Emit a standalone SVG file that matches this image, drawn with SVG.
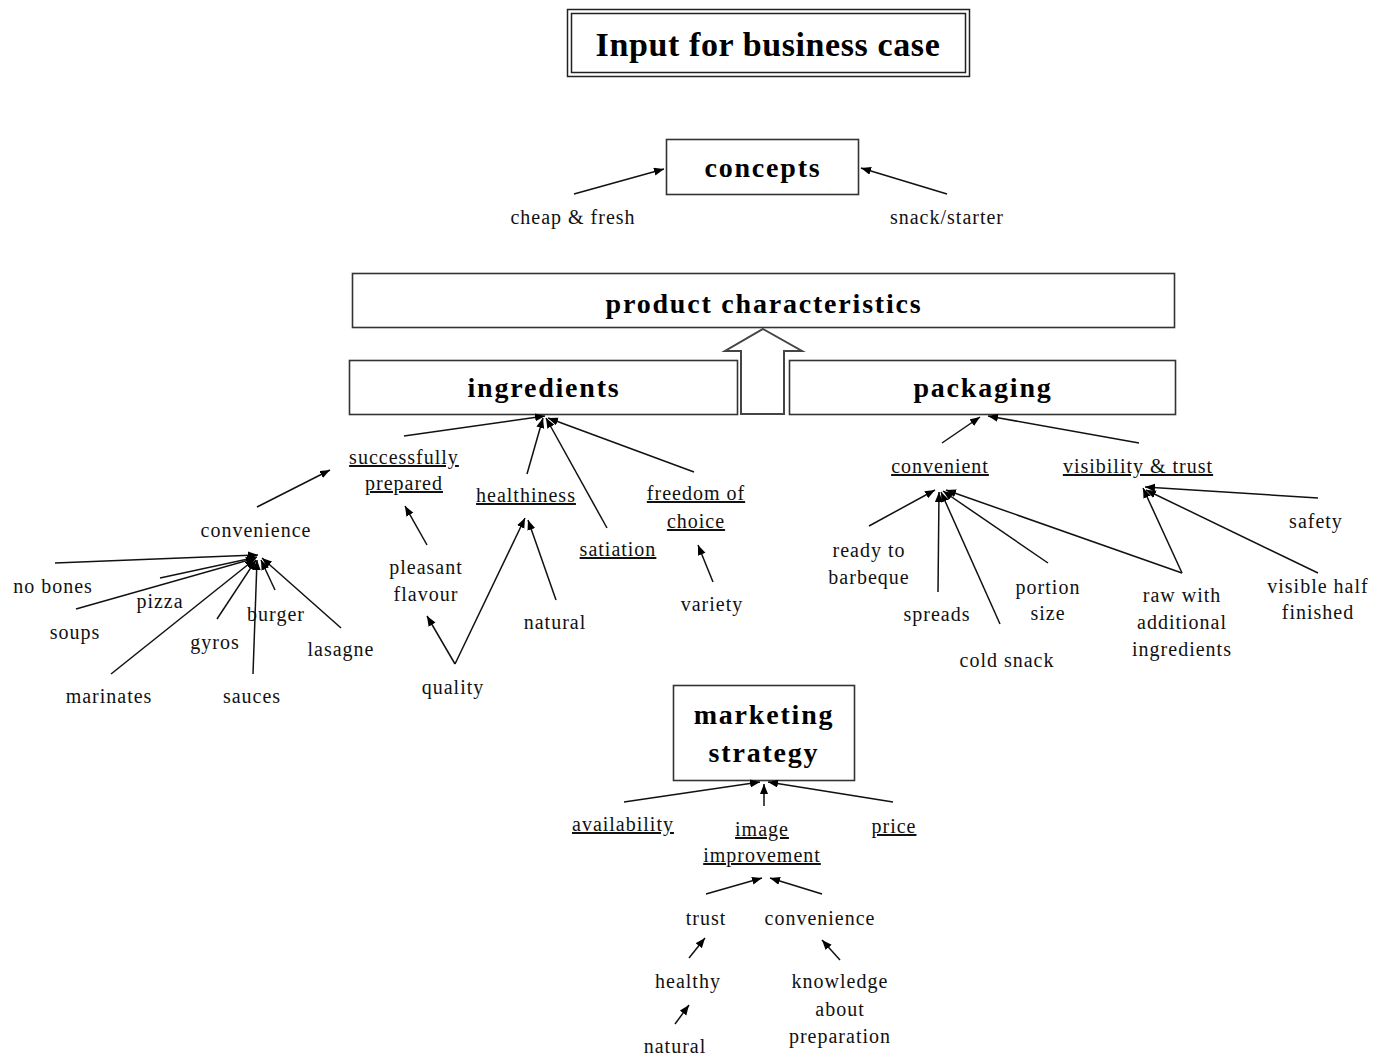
<svg xmlns="http://www.w3.org/2000/svg" width="1375" height="1057" viewBox="0 0 1375 1057">
<style>
.t{font-family:"Liberation Serif","Times New Roman",serif;font-size:20px;letter-spacing:1px;text-anchor:middle;fill:#111}
.u{text-decoration:underline}
.h{font-family:"Liberation Serif","Times New Roman",serif;font-size:28px;font-weight:bold;letter-spacing:1.8px;text-anchor:middle;fill:#000}
.box{fill:#fff;stroke:#333;stroke-width:1.6}
.c line{stroke:#111;stroke-width:1.5;marker-end:url(#ah)}
</style>
<defs>
<marker id="ah" markerUnits="userSpaceOnUse" markerWidth="11" markerHeight="9" refX="10" refY="4" orient="auto">
<path d="M0,0 L10,4 L0,8 z" fill="#000"/>
</marker>
</defs>
<rect width="1375" height="1057" fill="#fff"/>

<g id="title">
<rect x="567.5" y="9.5" width="402" height="67" fill="none" stroke="#222" stroke-width="1.5"/>
<rect x="571.5" y="13.5" width="394" height="59" fill="none" stroke="#222" stroke-width="1.5"/>
<text x="768" y="56" font-family="Liberation Serif,serif" font-size="34" font-weight="bold" letter-spacing="0.6" text-anchor="middle">Input for business case</text>
</g>

<g id="concepts">
<rect class="box" x="666.5" y="139.5" width="192" height="55"/>
<text class="h" x="763" y="177">concepts</text>
</g>
<g id="cheap-fresh"><text class="t" x="573" y="224">cheap &amp; fresh</text></g>
<g id="snack-starter"><text class="t" x="947" y="224">snack/starter</text></g>

<g id="product-characteristics">
<rect class="box" x="352.5" y="273.5" width="822" height="54"/>
<text class="h" x="764" y="313">product characteristics</text>
</g>

<g id="ingredients">
<rect class="box" x="349.5" y="360.5" width="388" height="54"/>
<text class="h" x="544" y="397">ingredients</text>
</g>
<g id="packaging">
<rect class="box" x="789.5" y="360.5" width="386" height="54"/>
<text class="h" x="983" y="397">packaging</text>
</g>
<g id="big-arrow">
<polygon points="763,329 802,351 784,351 784,414 741,414 741,351 725,351" fill="#fff" stroke="#444" stroke-width="2"/>
</g>

<g id="successfully-prepared"><text class="t u" x="404" y="464">successfully</text><text class="t u" x="404" y="490">prepared</text></g>
<g id="healthiness"><text class="t u" x="526" y="502">healthiness</text></g>
<g id="satiation"><text class="t u" x="618" y="556">satiation</text></g>
<g id="freedom-of-choice"><text class="t u" x="696" y="500">freedom of</text><text class="t u" x="696" y="528">choice</text></g>
<g id="pleasant-flavour"><text class="t" x="426" y="574">pleasant</text><text class="t" x="426" y="601">flavour</text></g>
<g id="quality"><text class="t" x="453" y="694">quality</text></g>
<g id="natural-1"><text class="t" x="555" y="629">natural</text></g>
<g id="variety"><text class="t" x="712" y="611">variety</text></g>
<g id="convenience-1"><text class="t" x="256" y="537">convenience</text></g>
<g id="no-bones"><text class="t" x="53" y="593">no bones</text></g>
<g id="pizza"><text class="t" x="160" y="608">pizza</text></g>
<g id="soups"><text class="t" x="75" y="639">soups</text></g>
<g id="gyros"><text class="t" x="215" y="649">gyros</text></g>
<g id="burger"><text class="t" x="276" y="621">burger</text></g>
<g id="lasagne"><text class="t" x="341" y="656">lasagne</text></g>
<g id="marinates"><text class="t" x="109" y="703">marinates</text></g>
<g id="sauces"><text class="t" x="252" y="703">sauces</text></g>

<g id="convenient"><text class="t u" x="940" y="473">convenient</text></g>
<g id="visibility-trust"><text class="t u" x="1138" y="473">visibility &amp; trust</text></g>
<g id="ready-to-barbeque"><text class="t" x="869" y="557">ready to</text><text class="t" x="869" y="584">barbeque</text></g>
<g id="spreads"><text class="t" x="937" y="621">spreads</text></g>
<g id="cold-snack"><text class="t" x="1007" y="667">cold snack</text></g>
<g id="portion-size"><text class="t" x="1048" y="594">portion</text><text class="t" x="1048" y="620">size</text></g>
<g id="raw-with"><text class="t" x="1182" y="602">raw with</text><text class="t" x="1182" y="629">additional</text><text class="t" x="1182" y="656">ingredients</text></g>
<g id="safety"><text class="t" x="1316" y="528">safety</text></g>
<g id="visible-half-finished"><text class="t" x="1318" y="593">visible half</text><text class="t" x="1318" y="619">finished</text></g>

<g id="marketing-strategy">
<rect class="box" x="673.5" y="685.5" width="181" height="95"/>
<text class="h" x="764" y="724">marketing</text>
<text class="h" x="764" y="762">strategy</text>
</g>
<g id="availability"><text class="t u" x="623" y="831">availability</text></g>
<g id="image-improvement"><text class="t u" x="762" y="836">image</text><text class="t u" x="762" y="862">improvement</text></g>
<g id="price"><text class="t u" x="894" y="833">price</text></g>
<g id="trust"><text class="t" x="706" y="925">trust</text></g>
<g id="convenience-2"><text class="t" x="820" y="925">convenience</text></g>
<g id="healthy"><text class="t" x="688" y="988">healthy</text></g>
<g id="natural-2"><text class="t" x="675" y="1053">natural</text></g>
<g id="knowledge"><text class="t" x="840" y="988">knowledge</text><text class="t" x="840" y="1016">about</text><text class="t" x="840" y="1043">preparation</text></g>

<g id="connectors" class="c">
<line x1="574" y1="194" x2="664" y2="169"/>
<line x1="947" y1="194" x2="861" y2="168"/>

<line x1="404" y1="436" x2="545" y2="416"/>
<line x1="527" y1="474" x2="543" y2="418"/>
<line x1="607" y1="528" x2="546" y2="418"/>
<line x1="694" y1="472" x2="548" y2="418"/>
<line x1="257" y1="507" x2="330" y2="470"/>
<line x1="427" y1="545" x2="405" y2="506"/>
<line x1="455" y1="664" x2="427" y2="616"/>
<line x1="455" y1="664" x2="525" y2="518"/>
<line x1="556" y1="600" x2="528" y2="520"/>
<line x1="713" y1="582" x2="698" y2="545"/>

<line x1="55" y1="563" x2="258" y2="555"/>
<line x1="160" y1="578" x2="257" y2="557"/>
<line x1="76" y1="609" x2="256" y2="558"/>
<line x1="111" y1="674" x2="255" y2="559"/>
<line x1="217" y1="619" x2="256" y2="560"/>
<line x1="253" y1="674" x2="257" y2="560"/>
<line x1="275" y1="590" x2="261" y2="560"/>
<line x1="341" y1="628" x2="262" y2="558"/>

<line x1="942" y1="443" x2="980" y2="417"/>
<line x1="1139" y1="443" x2="988" y2="416"/>
<line x1="869" y1="526" x2="935" y2="490"/>
<line x1="938" y1="592" x2="939" y2="492"/>
<line x1="1000" y1="624" x2="941" y2="492"/>
<line x1="1048" y1="563" x2="943" y2="491"/>
<line x1="1182" y1="573" x2="946" y2="490"/>
<line x1="1182" y1="573" x2="1143" y2="488"/>
<line x1="1318" y1="498" x2="1145" y2="487"/>
<line x1="1318" y1="573" x2="1146" y2="490"/>

<line x1="624" y1="802" x2="760" y2="782"/>
<line x1="764" y1="806" x2="764" y2="784"/>
<line x1="893" y1="802" x2="768" y2="782"/>
<line x1="706" y1="894" x2="762" y2="878"/>
<line x1="822" y1="894" x2="770" y2="878"/>
<line x1="689" y1="958" x2="705" y2="938"/>
<line x1="675" y1="1024" x2="689" y2="1005"/>
<line x1="840" y1="960" x2="822" y2="940"/>
</g>
</svg>
